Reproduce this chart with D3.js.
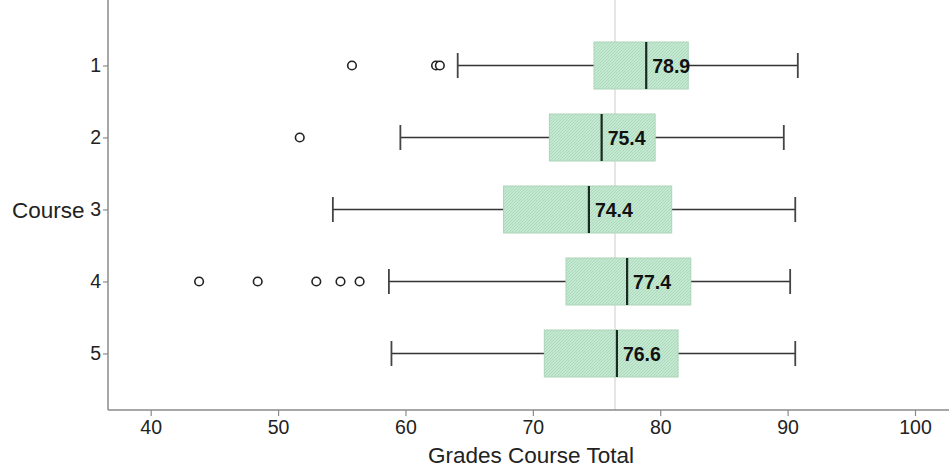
<!DOCTYPE html>
<html>
<head>
<meta charset="utf-8">
<script src="https://cdn.jsdelivr.net/npm/d3@7"></script>
<style>
  html, body { margin: 0; padding: 0; background: #fff; }
  svg { display: block; font-family: "Liberation Sans", Arial, sans-serif; }
</style>
</head>
<body>
<svg id="chart" width="949" height="469"></svg>
<script>
// Five-number summaries of course totals, one entry per course
const courses = ["1", "2", "3", "4", "5"];
const q1 = [74.8, 71.3, 67.7, 72.6, 70.9];
const medians = [78.9, 75.4, 74.4, 77.4, 76.6];
const q3 = [82.2, 79.6, 80.9, 82.4, 81.4];
const whiskerLow = [64.1, 59.6, 54.3, 58.7, 58.9];
const whiskerHigh = [90.8, 89.7, 90.6, 90.2, 90.6];
const outliers = [[55.8, 62.4, 62.7], [51.7], [], [43.8, 48.4, 53.0, 54.9, 56.4], []];
const overallMean = 76.45;
const xTicks = [40, 50, 60, 70, 80, 90, 100];

const svg = d3.select("#chart");
const left = 108, right = 949, axisY = 410;

const x = d3.scaleLinear().domain([40, 100]).range([150.7, 915]);
const y = d3.scalePoint().domain(courses).range([65.5, 353.5]);
const boxH = 47, capH = 25;

// hatched fill for the boxes
const defs = svg.append("defs");
const pat = defs.append("pattern")
  .attr("id", "hatch").attr("patternUnits", "userSpaceOnUse")
  .attr("width", 3).attr("height", 3);
pat.append("rect").attr("width", 3).attr("height", 3).attr("fill", "#c4e8d1");
pat.append("path").attr("d", "M0,3 L3,0 M-1,1 L1,-1 M2,4 L4,2")
  .attr("stroke", "#a8d8b9").attr("stroke-width", 0.9);

// overall mean reference line
svg.append("line")
  .attr("x1", x(overallMean)).attr("x2", x(overallMean))
  .attr("y1", 0).attr("y2", axisY)
  .attr("stroke", "#cccccc").attr("stroke-width", 1);

const rows = courses.map((c, i) => ({
  c, q1: q1[i], med: medians[i], q3: q3[i],
  lo: whiskerLow[i], hi: whiskerHigh[i], out: outliers[i]
}));

const g = svg.selectAll("g.box").data(rows).enter().append("g").attr("class", "box");

// whisker lines
g.append("line")
  .attr("x1", d => x(d.lo)).attr("x2", d => x(d.q1))
  .attr("y1", d => y(d.c)).attr("y2", d => y(d.c))
  .attr("stroke", "#333").attr("stroke-width", 1.5);
g.append("line")
  .attr("x1", d => x(d.q3)).attr("x2", d => x(d.hi))
  .attr("y1", d => y(d.c)).attr("y2", d => y(d.c))
  .attr("stroke", "#333").attr("stroke-width", 1.5);
// whisker caps
["lo", "hi"].forEach(k => {
  g.append("line")
    .attr("x1", d => x(d[k])).attr("x2", d => x(d[k]))
    .attr("y1", d => y(d.c) - capH / 2).attr("y2", d => y(d.c) + capH / 2)
    .attr("stroke", "#444").attr("stroke-width", 1.8);
});

// boxes
g.append("rect")
  .attr("x", d => x(d.q1)).attr("width", d => x(d.q3) - x(d.q1))
  .attr("y", d => y(d.c) - boxH / 2).attr("height", boxH)
  .attr("fill", "url(#hatch)").attr("stroke", "#acd5b8").attr("stroke-width", 1);

// medians
g.append("line")
  .attr("x1", d => x(d.med)).attr("x2", d => x(d.med))
  .attr("y1", d => y(d.c) - boxH / 2).attr("y2", d => y(d.c) + boxH / 2)
  .attr("stroke", "#1b2a20").attr("stroke-width", 2.2);
g.append("text")
  .attr("x", d => x(d.med) + 6).attr("y", d => y(d.c))
  .attr("dy", "0.36em")
  .attr("font-size", 19.5).attr("font-weight", "bold").attr("fill", "#111")
  .text(d => d.med.toFixed(1));

// outliers
g.selectAll("circle").data(d => d.out.map(v => ({ v, c: d.c }))).enter()
  .append("circle")
  .attr("cx", d => x(d.v)).attr("cy", d => y(d.c)).attr("r", 4.3)
  .attr("fill", "#fff").attr("stroke", "#222").attr("stroke-width", 1.6);

// x axis
const xAxis = svg.append("g").attr("transform", `translate(0,${axisY})`)
  .call(d3.axisBottom(x).tickValues(xTicks).tickSize(6).tickPadding(4).tickFormat(d3.format("d")));
xAxis.select(".domain").remove();
xAxis.append("line").attr("x1", left).attr("x2", right).attr("y1", 0).attr("y2", 0)
  .attr("stroke", "#8a8a8a").attr("stroke-width", 1.5);
xAxis.selectAll(".tick line").attr("stroke", "#8a8a8a").attr("stroke-width", 1.2);
xAxis.selectAll(".tick text").attr("font-size", 19.5).attr("fill", "#222")
  .attr("font-family", "Liberation Sans, Arial, sans-serif");

// y axis
const yAxis = svg.append("g").attr("transform", `translate(${left},0)`)
  .call(d3.axisLeft(y).tickSize(5).tickPadding(2));
yAxis.select(".domain").remove();
yAxis.append("line").attr("x1", 0).attr("x2", 0).attr("y1", 0).attr("y2", axisY)
  .attr("stroke", "#8a8a8a").attr("stroke-width", 1.5);
yAxis.selectAll(".tick line").attr("stroke", "#8a8a8a").attr("stroke-width", 1.2);
yAxis.selectAll(".tick text").attr("font-size", 19.5).attr("fill", "#222")
  .attr("font-family", "Liberation Sans, Arial, sans-serif");

// axis titles
svg.append("text").attr("x", 531).attr("y", 463)
  .attr("text-anchor", "middle").attr("font-size", 22.5).attr("fill", "#222")
  .text("Grades Course Total");
svg.append("text").attr("x", 12).attr("y", y("3")).attr("dy", "0.36em")
  .attr("font-size", 22.5).attr("fill", "#222")
  .text("Course");
</script>
</body>
</html>
